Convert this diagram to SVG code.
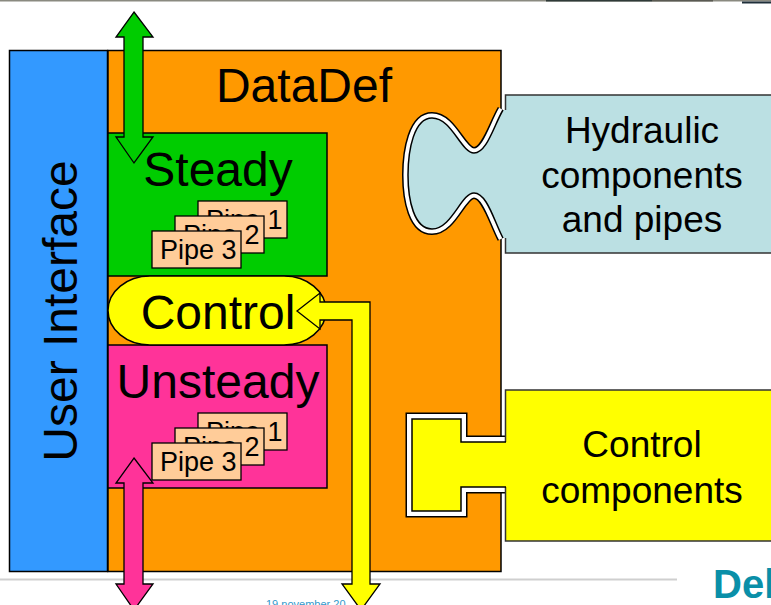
<svg xmlns="http://www.w3.org/2000/svg" width="771" height="605" viewBox="0 0 771 605">
<style>
.t{font-family:"Liberation Sans",Arial,sans-serif;fill:#000}
.big{font-size:48px}
.mid{font-size:37px}
.pipe{font-size:27px}
.box{stroke:#000;stroke-width:1.5}
.pb{fill:#FFCC99;stroke:#000;stroke-width:1.3}
.arr{stroke:#000;stroke-width:1.3;stroke-linejoin:miter}
</style>
<rect width="771" height="605" fill="#fff"/>
<g id="template">
<line x1="0" y1="0.5" x2="771" y2="0.5" stroke="#8a8a80" stroke-width="2"/>
<line x1="546" y1="0.5" x2="652" y2="0.5" stroke="#2f3a38" stroke-width="2"/>
<line x1="652" y1="0.5" x2="713" y2="0.5" stroke="#5a5a52" stroke-width="2"/>
<line x1="742" y1="2.5" x2="771" y2="2.5" stroke="#1f2f3a" stroke-width="2"/>
<line x1="0" y1="579.5" x2="677" y2="579.5" stroke="#cfcfcf" stroke-width="2"/>
<text x="713" y="598" style="font-family:'Liberation Sans',Arial,sans-serif;font-weight:bold;font-size:40px;fill:#0A8FA8">Delft</text>
<text x="266" y="608" style="font-family:'Liberation Sans',Arial,sans-serif;font-size:11px;fill:#3399CC">19 november 20</text>
</g>
<g id="ui">
<rect x="9.5" y="50.5" width="98" height="521" fill="#3399FF" class="box"/>
<text class="t big" transform="translate(77,311) rotate(-90)" text-anchor="middle">User Interface</text>
</g>
<g id="datadef">
<rect x="108" y="50.5" width="393" height="521" fill="#FF9900" class="box"/>
<text class="t big" x="304" y="102" text-anchor="middle">DataDef</text>
</g>
<g id="steady">
<rect x="108" y="133" width="219" height="143" fill="#00CC00" class="box"/>
<text class="t big" x="218" y="186" text-anchor="middle">Steady</text>
</g>
<g id="steady-pipe1"><rect x="198" y="201" width="89" height="37" class="pb"/><text class="t pipe" x="206" y="229">Pipe 1</text></g>
<g id="steady-pipe2"><rect x="175" y="216" width="89" height="37" class="pb"/><text class="t pipe" x="183" y="244">Pipe 2</text></g>
<g id="steady-pipe3"><rect x="152" y="231" width="89" height="37" class="pb"/><text class="t pipe" x="160" y="259">Pipe 3</text></g>
<g id="unsteady">
<rect x="108" y="345" width="219" height="143" fill="#FF3399" class="box"/>
<text class="t big" x="218" y="398" text-anchor="middle">Unsteady</text>
</g>
<g id="unsteady-pipe1"><rect x="198" y="413" width="89" height="37" class="pb"/><text class="t pipe" x="206" y="441">Pipe 1</text></g>
<g id="unsteady-pipe2"><rect x="175" y="428" width="89" height="37" class="pb"/><text class="t pipe" x="183" y="456">Pipe 2</text></g>
<g id="unsteady-pipe3"><rect x="152" y="443" width="89" height="37" class="pb"/><text class="t pipe" x="160" y="471">Pipe 3</text></g>
<g id="control">
<rect x="108" y="276" width="218" height="69" rx="42" ry="34.5" fill="#FFFF00" class="box"/>
<text class="t big" x="218" y="329" text-anchor="middle">Control</text>
</g>
<g id="hydraulic">
<path d="M503,110 C494,125 487,153 474,153 C461,153 452,118 432,118 C414,118 408,150 408,175 C408,200 414,229 432,229 C452,229 461,193 474,193 C487,193 494,221 503,238" fill="none" stroke="#000" stroke-width="12"/>
<path d="M503,110 C494,125 487,153 474,153 C461,153 452,118 432,118 C414,118 408,150 408,175 C408,200 414,229 432,229 C452,229 461,193 474,193 C487,193 494,221 503,238" fill="none" stroke="#fff" stroke-width="9"/>
<rect x="505.5" y="95" width="270" height="158" fill="#BBE0E3" stroke="#333" stroke-width="1.5"/>
<path d="M507,110 L503,110 C494,125 487,153 474,153 C461,153 452,118 432,118 C414,118 408,150 408,175 C408,200 414,229 432,229 C452,229 461,193 474,193 C487,193 494,221 503,238 L507,238 Z" fill="#BBE0E3"/>
<path d="M503,110 C494,125 487,153 474,153 C461,153 452,118 432,118 C414,118 408,150 408,175 C408,200 414,229 432,229 C452,229 461,193 474,193 C487,193 494,221 503,238" fill="none" stroke="#000" stroke-width="1.5"/>
<text class="t mid" x="642" y="143" text-anchor="middle">Hydraulic</text>
<text class="t mid" x="642" y="188" text-anchor="middle">components</text>
<text class="t mid" x="642" y="232" text-anchor="middle">and pipes</text>
</g>
<g id="control-components">
<path d="M506,442 L461,442 L461,419 L412,419 L412,511 L461,511 L461,487 L506,487" fill="none" stroke="#000" stroke-width="13" stroke-linejoin="miter"/>
<path d="M506,442 L461,442 L461,419 L412,419 L412,511 L461,511 L461,487 L506,487" fill="none" stroke="#fff" stroke-width="10" stroke-linejoin="miter"/>
<rect x="505.5" y="390" width="270" height="151" fill="#FFFF00" stroke="#333" stroke-width="1.5"/>
<path d="M507,442 L461,442 L461,419 L412,419 L412,511 L461,511 L461,487 L507,487 Z" fill="#FFFF00"/>
<path d="M506,442 L461,442 L461,419 L412,419 L412,511 L461,511 L461,487 L506,487" fill="none" stroke="#000" stroke-width="1.5"/>
<text class="t mid" x="642" y="457" text-anchor="middle">Control</text>
<text class="t mid" x="642" y="503" text-anchor="middle">components</text>
</g>
<g id="connectors">
<path d="M134,12 L153,37 L143,37 L143,137 L153,137 L134,163 L116,137 L124,137 L124,37 L116,37 Z" fill="#00CC00" class="arr"/>
<path d="M134,458 L153,483 L143,483 L143,584 L153,584 L134,610 L116,584 L124,584 L124,483 L116,483 Z" fill="#FF3399" class="arr"/>
<path d="M297,311 L320,293 L320,302 L370,302 L370,584 L380,584 L361,610 L342,584 L352,584 L352,320 L320,320 L320,329 Z" fill="#FFFF00" class="arr"/>
</g>
</svg>
